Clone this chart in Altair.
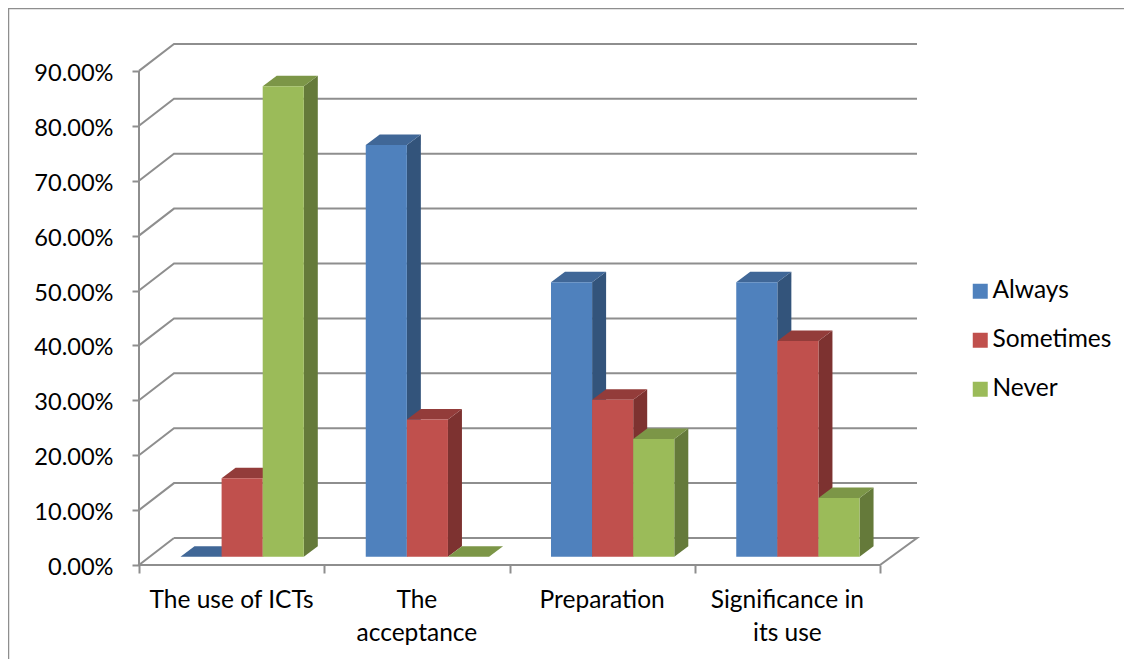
import altair as alt
import pandas as pd

categories = ["The use of ICTs", "The\nacceptance", "Preparation", "Significance in\nits use"]
series_names = ["Always", "Sometimes", "Never"]
always = [0.0, 0.75, 0.50, 0.50]
sometimes = [0.1429, 0.25, 0.2857, 0.3929]
never = [0.8571, 0.0, 0.2143, 0.1071]
series_values = [always, sometimes, never]
front_colors = ["#4f81bd", "#c0504d", "#9bbb59"]
top_colors = ["#406797", "#933c3a", "#7c9647"]
side_colors = ["#33547b", "#7d3230", "#657a3a"]
y_ticks = [i / 10 for i in range(10)]
x_ticks = [0, 1, 2, 3, 4]

FONT = "Lato"
FS = 24.5
GRID = "#8e8e8e"
W, H = 778, 521
PX_X = 185.25          # px per category
PX_Y = 549.0           # px per 100%
XMAX = W / PX_X
YMAX = H / PX_Y
WALL_X, WALL_Y = 35 / PX_X, 27 / PX_Y
DEPTH_X, DEPTH_Y = 14 / PX_X, 10.5 / PX_Y
BASE = 8.3 / PX_Y
BAR_START = 41.5 / PX_X
BAR_W = 41.1 / PX_X

xs = alt.Scale(domain=[0, XMAX], nice=False, zero=False)
ys = alt.Scale(domain=[0, YMAX], nice=False, zero=False)
x_axis = alt.Axis(values=x_ticks, labels=False, domain=False, grid=False, title=None,
                  tickSize=8, tickColor=GRID, tickWidth=2)
y_axis = alt.Axis(values=y_ticks, format=".2%", domain=False, grid=False, title=None,
                  tickSize=7, tickColor=GRID, tickWidth=2, labelPadding=19, labelOffset=2.5,
                  labelFont=FONT, labelFontSize=23.6, labelColor="#000000")
X = alt.X("x:Q", scale=xs, axis=x_axis)
Y = alt.Y("y:Q", scale=ys, axis=y_axis)

# back wall grid lines and axes
rows = []
for k, t in enumerate(y_ticks[1:], 1):
    rows += [dict(line=k, seq=0, x=0, y=t),
             dict(line=k, seq=1, x=WALL_X, y=t + WALL_Y),
             dict(line=k, seq=2, x=XMAX, y=t + WALL_Y)]
rows += [dict(line=0, seq=i, x=a, y=b) for i, (a, b) in enumerate(
    [(WALL_X, WALL_Y), (XMAX, WALL_Y), (4, 0), (0, 0), (WALL_X, WALL_Y)])]
rows += [dict(line=-1, seq=0, x=0, y=0), dict(line=-1, seq=1, x=0, y=y_ticks[-1])]

grid = alt.Chart(pd.DataFrame(rows)).mark_line(color=GRID, strokeWidth=2).encode(
    x=X, y=Y, detail="line:N", order="seq:Q")

layers = [grid]
color_scale = alt.Scale(domain=series_names, range=front_colors)
for s, (name, vals) in enumerate(zip(series_names, series_values)):
    side, top, front = [], [], []
    for c, v in enumerate(vals):
        x0 = c + BAR_START + s * BAR_W
        x1 = x0 + BAR_W
        b = BASE
        t = BASE + v
        side += [dict(bar=c, x=x1, y=t, y2=b), dict(bar=c, x=x1 + DEPTH_X, y=t + DEPTH_Y, y2=b + DEPTH_Y)]
        top += [dict(bar=c, x=x0, y=t, y2=t),
                dict(bar=c, x=x0 + DEPTH_X, y=t + DEPTH_Y, y2=t),
                dict(bar=c, x=x1, y=t + DEPTH_Y, y2=t),
                dict(bar=c, x=x1 + DEPTH_X, y=t + DEPTH_Y, y2=t + DEPTH_Y)]
        front.append(dict(series=name, x=x0, x2=x1, y=t, y2=b))
    layers.append(alt.Chart(pd.DataFrame(side)).mark_area(color=side_colors[s]).encode(
        x=X, y=Y, y2="y2:Q", detail="bar:N"))
    layers.append(alt.Chart(pd.DataFrame(top)).mark_area(color=top_colors[s]).encode(
        x=X, y=Y, y2="y2:Q", detail="bar:N"))
    layers.append(alt.Chart(pd.DataFrame(front)).mark_rect().encode(
        x=X, x2="x2:Q", y=Y, y2="y2:Q",
        color=alt.Color("series:N", scale=color_scale, sort=series_names,
                        legend=alt.Legend(orient="none", legendX=829, legendY=235, title=None,
                                          symbolType="square", symbolSize=225, symbolStrokeWidth=0,
                                          labelFont=FONT, labelFontSize=FS, labelColor="#000000",
                                          labelOffset=0, rowPadding=24, labelLimit=200))))

cat_df = pd.DataFrame({"x": [i + 0.5 for i in range(len(categories))], "label": categories})
labels = alt.Chart(cat_df).mark_text(font=FONT, fontSize=FS, color="#000000", align="center",
                                     baseline="top", lineBreak="\n", lineHeight=33).encode(
    x=X, y=alt.value(H + 24), text="label:N")
layers.append(labels)

dummy = pd.DataFrame({"a": [0]})
frame_top = alt.Chart(dummy).mark_rule(color=GRID, strokeWidth=1.5).encode(
    x=alt.value(-131), x2=alt.value(985), y=alt.value(-35.5))
frame_left = alt.Chart(dummy).mark_rule(color=GRID, strokeWidth=1.5).encode(
    x=alt.value(-130.5), y=alt.value(-36), y2=alt.value(615))
layers += [frame_top, frame_left]

chart = alt.layer(*layers).properties(
    width=W, height=H,
    autosize=alt.AutoSizeParams(type="none"),
    padding={"left": 131, "top": 36, "right": 207, "bottom": 94},
).configure_view(stroke=None)

chart.save("out.html", embed_options={"renderer": "svg", "actions": False})
